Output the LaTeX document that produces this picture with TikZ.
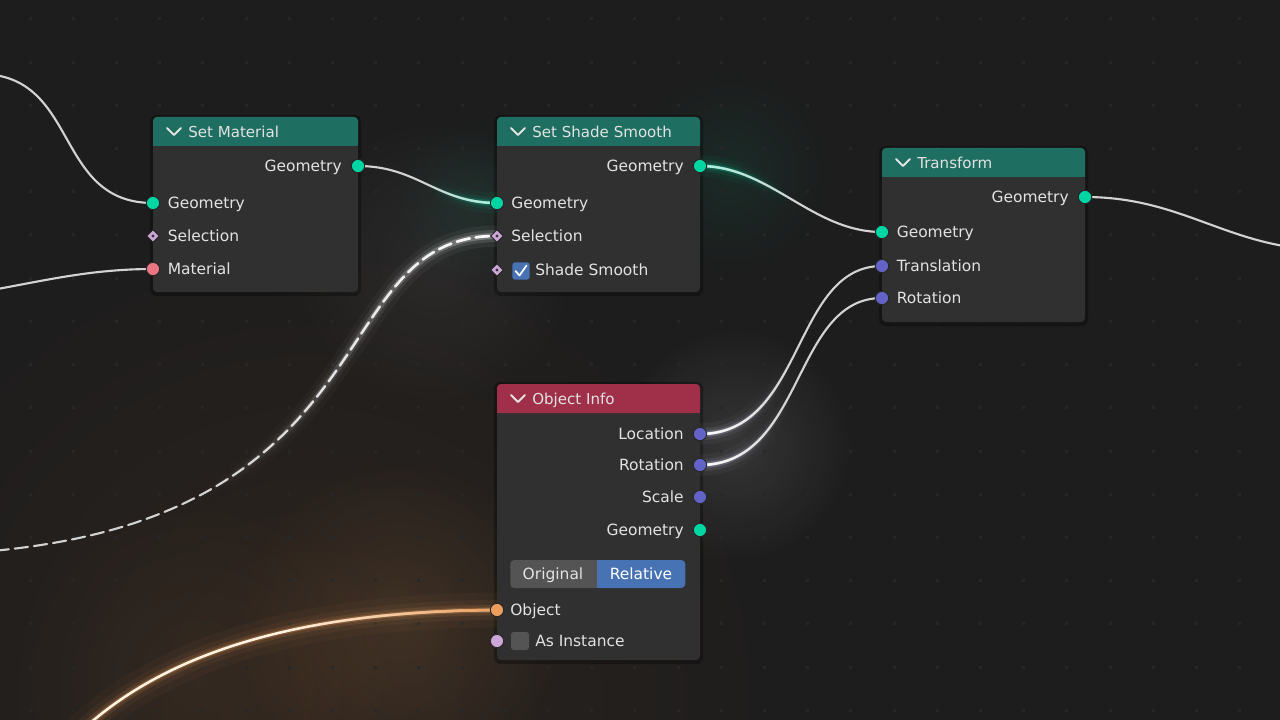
\documentclass[tikz,border=0pt]{standalone}
\usepackage{fontspec}
\setmainfont{DejaVu Sans}
\usetikzlibrary{shapes.geometric,fadings}

\definecolor{bg}{HTML}{1D1D1D}
\definecolor{dotc}{HTML}{272727}
\definecolor{nbodyc}{HTML}{303030}
\definecolor{hteal}{HTML}{1E6E62}
\definecolor{hred}{HTML}{A0304A}
\definecolor{sgeo}{HTML}{00D6A3}
\definecolor{sgeolt}{HTML}{A8F5E2}
\definecolor{svec}{HTML}{6363C7}
\definecolor{smat}{HTML}{EB7582}
\definecolor{sobj}{HTML}{ED9E5C}
\definecolor{sbool}{HTML}{CCA6D6}
\definecolor{txt}{HTML}{E2E2E2}
\definecolor{btn}{HTML}{545454}
\definecolor{btnsel}{HTML}{4772B3}
\definecolor{linkc}{HTML}{D2D2D2}
\definecolor{hazeO}{HTML}{3A2A1E}
\definecolor{lavglow}{HTML}{D8D8FF}
\definecolor{orgwhite}{HTML}{FFF3E2}

\newcommand\lblfont{\fontsize{11.6}{14}\selectfont}
\newcommand\hdrfont{\fontsize{11.3}{14}\selectfont}

\pgfdeclarelayer{backlayer}
\pgfdeclarelayer{linklayer}
\pgfsetlayers{backlayer,linklayer,main}

\tikzfading[name=glowR, left color=transparent!100, right color=transparent!0, middle color=transparent!100]
\tikzfading[name=glowL, left color=transparent!0, right color=transparent!100, middle color=transparent!100]
\tikzfading[name=softdisc, inner color=transparent!0, outer color=transparent!100]

\tikzset{
  nbox/.style={fill=nbodyc, rounded corners=3pt, inner sep=0pt, outer sep=0pt, anchor=north west},
  hbox/.style={rounded corners=3pt, inner sep=0pt, outer sep=0pt, anchor=north west, minimum height=21.75pt},
  chev/.style={draw=txt, line width=1.4pt, line cap=round, line join=round},
  htxt/.style={text=txt, font=\hdrfont, inner sep=0pt, text height=10pt, text depth=1.6pt, anchor=west},
  lbl/.style={text=txt, font=\lblfont, inner sep=0pt, text height=10pt, text depth=1.6pt},
  lblL/.style={lbl, anchor=west},
  lblR/.style={lbl, anchor=east},
  sock/.style={circle, draw=black!85, line width=0.7pt, inner sep=0pt, outer sep=0pt, minimum size=10pt},
  dsock/.style={rectangle, rotate=45, draw=black!85, line width=0.6pt, fill=sbool, inner sep=0pt, outer sep=0pt, minimum size=6.6pt},
  chk/.style={rounded corners=2pt, inner sep=0pt, minimum size=13pt},
  btnbox/.style={rounded corners=3pt, inner sep=0pt, minimum height=21pt},
  btntxt/.style={lbl, text=txt},
  link/.style={draw=linkc, line width=1.6pt, line cap=round},
  haze/.style={path fading=softdisc},
  glowfade/.style={
    preaction={draw=#1, solid, line width=16pt, opacity=0.06, path fading=\glowdir},
    preaction={draw=#1, solid, line width=9pt, opacity=0.12, path fading=\glowdir},
    preaction={draw=#1, solid, line width=4.5pt, opacity=0.28, path fading=\glowdir}},
}
\newcommand\glowdir{glowR}

% name, x, y, w, h, header colour, title
\newcommand\bframe[7]{%
  \begin{pgfonlayer}{backlayer}
    \fill[black, opacity=0.3, rounded corners=5pt] ({#2-3},{#3-2}) rectangle ({#2+#4+3},{#3+#5+4});
  \end{pgfonlayer}
  \node[nbox, minimum width=#4*0.75pt, minimum height=#5*0.75pt] (#1) at (#2,#3) {};
  \node[hbox, fill=#6, minimum width=#4*0.75pt] (#1-hd) at (#2,#3) {};
  \fill[#6] ({#2},{#3+20}) rectangle ({#2+#4},{#3+29});
  \draw[chev] ({#2+14},{#3+11}) -- ({#2+21},{#3+18}) -- ({#2+28},{#3+11});
  \node[htxt] (#1-tt) at ({#2+35},{#3+14.5}) {#7};
}

\begin{document}
\begin{tikzpicture}[x=0.75pt,y=-0.75pt]
\useasboundingbox (0,0) rectangle (1280,720);

\begin{pgfonlayer}{backlayer}
  \fill[bg] (0,0) rectangle (1280,720);
  \fill[hazeO, haze, opacity=0.55] (310,700) circle (500);
  \fill[sobj, haze, opacity=0.12] (400,625) circle (170);
  \fill[sobj, haze, opacity=0.06] (200,680) circle (200);
  \fill[white, haze, opacity=0.11] (735,445) circle (120);
  \fill[sgeo, haze, opacity=0.08] (730,172) circle (100);
  \fill[sgeo, haze, opacity=0.07] (475,200) circle (80);
  \fill[white, haze, opacity=0.06] (435,262) circle (150);
  \foreach \i in {0,...,29}{\foreach \j in {0,...,16}{
    \fill[dotc] ({30+43.2*\i-1.5},{19+43.2*\j-1.5}) rectangle +(3,3);}}
\end{pgfonlayer}

% ---------- Set Material ----------
\bframe{sm}{153}{117}{205}{175}{hteal}{Set Material}
\node[sock, fill=sgeo] (smGout) at (358,166) {};
\node[lblR] (smGoutL) at (342,166) {Geometry};
\node[sock, fill=sgeo] (smGin) at (153,203) {};
\node[lblL] (smGinL) at (167.5,203) {Geometry};
\node[dsock] (smSel) at (153,236) {};
\fill[black!80] (smSel.center) circle (1.3pt);
\node[lblL] (smSelL) at (167.5,236) {Selection};
\node[sock, fill=smat] (smMat) at (153,269) {};
\node[lblL] (smMatL) at (167.5,269) {Material};

% ---------- Set Shade Smooth ----------
\bframe{ss}{497}{117}{203}{175}{hteal}{Set Shade Smooth}
\node[sock, fill=sgeo] (ssGout) at (700,166) {};
\node[lblR] (ssGoutL) at (684,166) {Geometry};
\node[sock, fill=sgeo] (ssGin) at (497,203) {};
\node[lblL] (ssGinL) at (511,203) {Geometry};
\node[dsock] (ssSel) at (497,236) {};
\fill[black!80] (ssSel.center) circle (1.3pt);
\node[lblL] (ssSelL) at (511,236) {Selection};
\node[dsock] (ssSm) at (497,270) {};
\fill[black!80] (ssSm.center) circle (1.3pt);
\node[chk, fill=btnsel] (ssChk) at (521,271) {};
\draw[white, line width=1.3pt, line cap=round, line join=round] (515.5,271) -- (519.5,275.5) -- (526.5,265.5);
\node[lblL] (ssSmL) at (535,270) {Shade Smooth};

% ---------- Transform ----------
\bframe{tr}{882}{148}{203}{174}{hteal}{Transform}
\node[sock, fill=sgeo] (trGout) at (1085,197) {};
\node[lblR] (trGoutL) at (1069,197) {Geometry};
\node[sock, fill=sgeo] (trGin) at (882,232) {};
\node[lblL] (trGinL) at (896.5,232) {Geometry};
\node[sock, fill=svec] (trTr) at (882,266) {};
\node[lblL] (trTrL) at (896.5,266) {Translation};
\node[sock, fill=svec] (trRot) at (882,298) {};
\node[lblL] (trRotL) at (896.5,298) {Rotation};

% ---------- Object Info ----------
\bframe{oi}{497}{384}{203}{276}{hred}{Object Info}
\node[sock, fill=svec] (oiLoc) at (700,434) {};
\node[lblR] (oiLocL) at (684,434) {Location};
\node[sock, fill=svec] (oiRot) at (700,465) {};
\node[lblR] (oiRotL) at (684,465) {Rotation};
\node[sock, fill=svec] (oiSca) at (700,497) {};
\node[lblR] (oiScaL) at (684,497) {Scale};
\node[sock, fill=sgeo] (oiGeo) at (700,530) {};
\node[lblR] (oiGeoL) at (684,530) {Geometry};
\node[btnbox, fill=btn, minimum width=90*0.75pt, anchor=west] (oiOrig) at (510,574) {};
\node[btnbox, fill=btnsel, minimum width=88*0.75pt, anchor=west] (oiRel) at (597,574) {};
\fill[btnsel] (597,560) rectangle (603,588);
\node[btntxt] (oiOrigT) at (553,574) {Original};
\node[btntxt, text=white] (oiRelT) at (641,574) {Relative};
\node[sock, fill=sobj] (oiObj) at (497,610) {};
\node[lblL] (oiObjL) at (510,610) {Object};
\node[sock, fill=sbool] (oiInst) at (497,641) {};
\node[chk, fill=btn, minimum size=13.5pt] (oiChk) at (520,641) {};
\node[lblL] (oiInstL) at (535,641) {As Instance};

% ---------- off-screen link ends ----------
\coordinate (offA) at (-20,74);
\coordinate (offB) at (-110,300);
\coordinate (offC) at (-101,555);
\coordinate (offD) at (1330,250);
\coordinate (offE) at (70,742);

% ---------- links ----------
\begin{pgfonlayer}{linklayer}
  \draw[link] (offA) .. controls +(100,0) and +(-100,0) .. (smGin.center);
  \draw[link] (offB) .. controls +(100,0) and +(-100,0) .. (smMat.center);
  \renewcommand\glowdir{glowR}
  \draw[link, glowfade=sgeo,
    postaction={draw=sgeolt, line width=1.9pt, path fading=glowR}]
    (smGout.center) .. controls +(60,0) and +(-60,0) .. (ssGin.center);
  \draw[link, dash pattern=on 10pt off 4.5pt, glowfade=white,
    postaction={draw=white, line width=2pt, dash pattern=on 10pt off 4.5pt, path fading=glowR}]
    (offC) .. controls +(507,0) and +(-187,0) .. (ssSel.center);
  \renewcommand\glowdir{glowL}
  \draw[link, glowfade=sgeo,
    postaction={draw=sgeolt, line width=1.9pt, path fading=glowL}]
    (ssGout.center) .. controls +(70,0) and +(-70,0) .. (trGin.center);
  \draw[link] (trGout.center) .. controls +(100,0) and +(-100,0) .. (offD);
  \draw[link, glowfade=lavglow,
    postaction={draw=white, line width=2pt, path fading=glowL}]
    (oiLoc.center) .. controls +(105,0) and +(-90,0) .. (trTr.center);
  \draw[link, glowfade=lavglow,
    postaction={draw=white, line width=2pt, path fading=glowL}]
    (oiRot.center) .. controls +(105,0) and +(-90,0) .. (trRot.center);
  \draw[link, draw=orgwhite, line width=1.9pt,
    preaction={draw=sobj, line width=26pt, opacity=0.04},
    preaction={draw=sobj, line width=15pt, opacity=0.06},
    preaction={draw=sobj, line width=8pt, opacity=0.12},
    preaction={draw=sobj, line width=4pt, opacity=0.25},
    postaction={draw=sobj, line width=2pt, path fading=glowR}]
    (offE) .. controls (170,640) and (330,611) .. (oiObj.center);
\end{pgfonlayer}
\end{tikzpicture}
\end{document}
